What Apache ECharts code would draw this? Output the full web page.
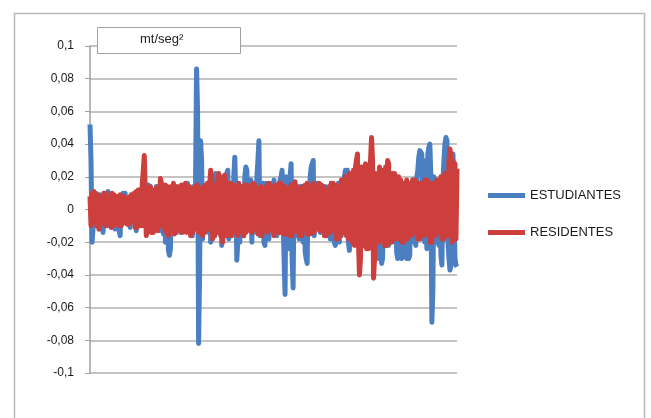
<!DOCTYPE html>
<html>
<head>
<meta charset="utf-8">
<script src="https://cdn.jsdelivr.net/npm/echarts@6/dist/echarts.min.js"></script>
<style>
html,body{margin:0;padding:0;background:#fff;}
#chart{width:651px;height:418px;}
</style>
</head>
<body>
<div id="chart"></div>
<script>
// Aceleración (mt/seg²) por muestra
const estudiantes = [
  0.052, 0.03, -0.02, -0.012, 0.008, -0.01, 0.01, -0.006, 0.007, -0.012, 0.009, -0.008, 0.006, -0.014, 0.01, -0.009, 0.008, -0.01, 0.011, -0.007,
  0.009, -0.006, 0.004, -0.011, 0.008, -0.012, 0.007, -0.01, 0.008, -0.013, -0.016, 0.007, -0.009, 0.01, -0.008, 0.01, -0.005, 0.006, -0.009, 0.006,
  -0.011, 0.009, -0.007, 0.008, -0.005, 0.005, -0.013, 0.006, -0.01, 0.004, 0.012, -0.009, 0.011, -0.01, 0.008, -0.007, 0.006, -0.01, 0.015, -0.012,
  0.014, -0.012, 0.01, -0.009, 0.012, -0.008, 0.014, -0.011, 0.012, -0.013, 0.009, -0.011, 0.011, -0.015, 0.008, -0.02, -0.016, 0.006, -0.025, -0.028,
  -0.024, 0.006, -0.012, 0.009, -0.01, 0.011, -0.009, 0.013, -0.012, 0.01, -0.014, 0.012, -0.01, 0.01, -0.012, 0.014, -0.01, 0.016, -0.012, 0.012,
  -0.008, 0.012, -0.016, 0.014, -0.01, 0.018, 0.086, 0.06, -0.082, -0.04, 0.042, 0.03, -0.018, 0.012, -0.014, 0.014, -0.012, 0.016, -0.014, 0.017,
  -0.02, 0.014, -0.012, 0.018, -0.016, 0.022, 0.02, -0.014, 0.016, -0.012, 0.018, -0.022, 0.02, -0.016, 0.02, -0.012, 0.022, 0.024, -0.018, 0.016,
  -0.016, 0.015, -0.014, 0.02, 0.032, 0.01, -0.031, -0.02, 0.012, -0.02, 0.014, -0.016, 0.014, -0.016, 0.02, 0.026, 0.024, -0.012, 0.014, -0.012,
  0.018, -0.02, 0.016, -0.014, 0.014, -0.01, 0.02, 0.03, 0.042, -0.016, 0.012, -0.016, 0.016, -0.02, -0.022, 0.016, -0.012, 0.014, -0.018, 0.012,
  -0.014, 0.016, -0.012, 0.018, -0.01, 0.014, -0.016, 0.012, -0.014, 0.018, 0.02, 0.024, 0.025, -0.03, -0.052, 0.02, -0.02, 0.018, -0.024, 0.02,
  0.028, -0.03, -0.048, 0.016, -0.014, 0.012, -0.016, 0.012, -0.018, 0.014, -0.012, 0.014, -0.02, 0.012, -0.026, -0.03, -0.033, 0.016, -0.014, 0.02,
  0.026, 0.028, 0.03, -0.016, 0.014, -0.012, 0.016, -0.01, 0.012, -0.014, 0.015, -0.012, 0.01, -0.012, 0.014, -0.016, 0.013, -0.015, 0.012, -0.018,
  0.016, -0.014, 0.012, -0.02, -0.022, 0.014, -0.018, 0.016, -0.02, 0.014, -0.016, 0.016, -0.014, 0.02, 0.024, 0.022, 0.024, -0.02, -0.025, 0.014,
  -0.018, 0.016, -0.014, 0.018, -0.016, 0.012, -0.02, 0.014, -0.018, 0.016, -0.016, 0.018, -0.022, 0.018, -0.016, 0.02, -0.018, 0.016, -0.02, 0.018,
  -0.016, 0.02, -0.022, 0.018, -0.02, 0.016, -0.026, -0.03, 0.016, -0.02, -0.033, -0.03, 0.016, -0.018, 0.014, -0.02, 0.016, -0.022, 0.012, -0.018,
  0.016, -0.014, 0.018, -0.02, 0.012, -0.026, -0.03, -0.028, 0.012, -0.028, -0.03, 0.014, -0.02, 0.016, -0.026, -0.03, 0.014, -0.03, -0.028, 0.016,
  -0.016, 0.018, -0.02, 0.018, -0.022, 0.02, 0.024, 0.032, 0.036, 0.037, 0.034, -0.018, 0.03, -0.02, 0.028, -0.024, 0.034, 0.038, 0.04, 0.02,
  -0.069, -0.05, 0.02, -0.016, 0.018, -0.02, 0.018, -0.022, 0.016, -0.028, -0.034, 0.016, 0.03, 0.04, 0.044, 0.042, -0.02, -0.03, -0.037, -0.034,
  0.03, 0.034, 0.035, -0.03, -0.034, -0.035
];
const residentes = [
  0.008, -0.01, 0.01, -0.008, 0.011, -0.006, 0.009, -0.01, 0.009, -0.012, 0.008, -0.008, 0.007, -0.008, 0.01, -0.01, 0.01, -0.009, 0.008, -0.007,
  0.006, -0.011, 0.01, -0.01, 0.009, -0.006, 0.008, -0.009, 0.008, -0.01, 0.009, -0.01, 0.007, -0.007, 0.008, -0.008, 0.005, -0.009, 0.007, -0.009,
  0.008, -0.006, 0.009, -0.007, 0.01, -0.011, 0.011, -0.011, 0.012, -0.008, 0.01, -0.01, 0.016, 0.024, 0.033, 0.01, -0.016, -0.012, 0.012, -0.012,
  0.014, -0.014, 0.012, -0.014, 0.011, -0.012, 0.013, -0.013, 0.014, -0.01, 0.019, 0.016, -0.01, 0.012, -0.012, 0.015, -0.014, 0.014, -0.016, 0.013,
  -0.012, 0.014, -0.012, 0.016, -0.015, 0.012, -0.014, 0.014, -0.011, 0.013, -0.012, 0.015, -0.014, 0.015, -0.012, 0.016, -0.014, 0.012, -0.012, 0.014,
  -0.016, 0.012, -0.014, 0.013, -0.01, 0.014, -0.012, 0.015, -0.014, 0.013, -0.012, 0.012, -0.016, 0.014, -0.014, 0.015, -0.012, 0.016, -0.012, 0.014,
  0.024, 0.02, -0.018, 0.014, -0.016, 0.015, -0.014, 0.016, 0.022, 0.018, -0.016, 0.014, -0.02, 0.012, 0.021, -0.016, 0.014, -0.016, 0.016, -0.014,
  0.016, -0.016, 0.015, -0.014, 0.014, -0.012, 0.012, -0.016, 0.016, -0.014, 0.014, -0.013, 0.013, -0.016, 0.015, -0.014, 0.015, -0.012, 0.014, -0.013,
  0.014, -0.014, 0.016, -0.012, 0.015, -0.012, 0.013, -0.015, 0.012, -0.014, 0.014, -0.016, 0.012, -0.012, 0.013, -0.013, 0.015, -0.014, 0.016, -0.012,
  0.014, -0.012, 0.014, -0.016, 0.015, -0.013, 0.013, -0.014, 0.016, -0.014, 0.016, -0.012, 0.014, -0.015, 0.014, -0.015, 0.013, -0.014, 0.012, -0.016,
  0.015, -0.016, 0.014, -0.012, 0.017, -0.013, 0.014, -0.014, 0.013, -0.016, 0.012, -0.016, 0.014, -0.012, 0.015, -0.012, 0.016, -0.015, 0.014, -0.015,
  0.013, -0.014, 0.016, -0.014, 0.015, -0.012, 0.014, -0.012, 0.016, -0.013, 0.015, -0.013, 0.014, -0.016, 0.012, -0.016, 0.012, -0.014, 0.014, -0.014,
  0.016, -0.012, 0.016, -0.012, 0.015, -0.018, 0.014, -0.018, 0.014, -0.016, 0.018, -0.014, 0.018, -0.014, 0.02, -0.016, 0.02, -0.018, 0.022, -0.018,
  0.022, -0.02, 0.024, -0.022, 0.026, 0.03, 0.034, -0.02, -0.04, -0.03, 0.026, -0.022, 0.026, -0.022, 0.028, -0.024, 0.024, -0.024, 0.02, 0.03,
  0.044, 0.03, -0.042, -0.03, 0.022, -0.02, 0.022, -0.02, 0.026, -0.018, 0.024, -0.018, 0.024, -0.022, 0.026, -0.022, 0.03, 0.028, -0.02, 0.022,
  -0.02, 0.022, -0.018, 0.022, -0.018, 0.02, -0.016, 0.02, -0.018, 0.018, -0.02, 0.016, -0.02, 0.016, -0.018, 0.018, -0.018, 0.015, -0.016, 0.016,
  -0.016, 0.018, -0.014, 0.018, -0.014, 0.016, -0.018, 0.016, -0.018, 0.014, -0.016, 0.016, -0.016, 0.018, -0.015, 0.018, -0.015, 0.016, -0.02, 0.016,
  -0.02, 0.014, -0.016, 0.016, -0.016, 0.018, -0.014, 0.018, -0.014, 0.02, -0.018, 0.02, -0.018, 0.022, -0.016, 0.022, -0.016, 0.03, 0.037, 0.032,
  -0.02, 0.03, -0.018, 0.028, -0.018, 0.025
];
const muestras = estudiantes.map((_, i) => String(i + 1));
const yTicks = { min: -0.1, max: 0.1, step: 0.02 };
const unidad = 'mt/seg²';

const chart = echarts.init(document.getElementById('chart'), null, { renderer: 'canvas' });
chart.setOption({
  animation: false,
  backgroundColor: '#ffffff',
  textStyle: { fontFamily: 'Liberation Sans, Arial, sans-serif' },
  grid: { left: 90, right: 194, top: 46, bottom: 45 },
  graphic: [
    { type: 'rect', z: -10, silent: true,
      shape: { x: 14.5, y: 13.5, width: 630, height: 410 },
      style: { fill: '#ffffff', stroke: '#b8b8b8', lineWidth: 1.5 } },
    { type: 'rect', z: 100, silent: true,
      shape: { x: 97.5, y: 27.5, width: 143, height: 26 },
      style: { fill: '#ffffff', stroke: '#a0a0a0', lineWidth: 1 } },
    { type: 'text', z: 101, silent: true, left: 140, top: 33,
      style: { text: unidad, fill: '#222', font: '13px Liberation Sans, Arial, sans-serif' } }
  ],
  legend: {
    orient: 'vertical', left: 483, top: 184, itemGap: 24,
    itemWidth: 37, itemHeight: 5, icon: 'rect',
    textStyle: { fontSize: 13, color: '#1a1a1a', fontFamily: 'Liberation Sans, Arial' },
    data: ['ESTUDIANTES', 'RESIDENTES']
  },
  xAxis: {
    type: 'category', data: muestras, boundaryGap: false,
    axisLine: { show: false }, axisTick: { show: false }, axisLabel: { show: false },
    splitLine: { show: false }
  },
  yAxis: {
    type: 'value', min: yTicks.min, max: yTicks.max, interval: yTicks.step,
    axisLine: { show: true, lineStyle: { color: '#a0a0a0', width: 1.5 } },
    axisTick: { show: true, length: 5, lineStyle: { color: '#a0a0a0' } },
    axisLabel: {
      margin: 16, fontSize: 12, color: '#1a1a1a',
      formatter: v => {
        const r = Math.round(v * 100) / 100;
        return r === 0 ? '0' : String(r).replace('.', ',');
      }
    },
    splitLine: { show: true, lineStyle: { color: '#b0b0b0', width: 1.5 } }
  },
  series: [
    { name: 'ESTUDIANTES', type: 'line', data: estudiantes, showSymbol: false,
      symbol: 'none', itemStyle: { color: '#4a7fc1' },
      lineStyle: { color: '#4a7fc1', width: 5, join: 'round' } },
    { name: 'RESIDENTES', type: 'line', data: residentes, showSymbol: false,
      symbol: 'none', itemStyle: { color: '#cc3f3c' },
      lineStyle: { color: '#cc3f3c', width: 5, join: 'round' } }
  ]
});
</script>
</body>
</html>
